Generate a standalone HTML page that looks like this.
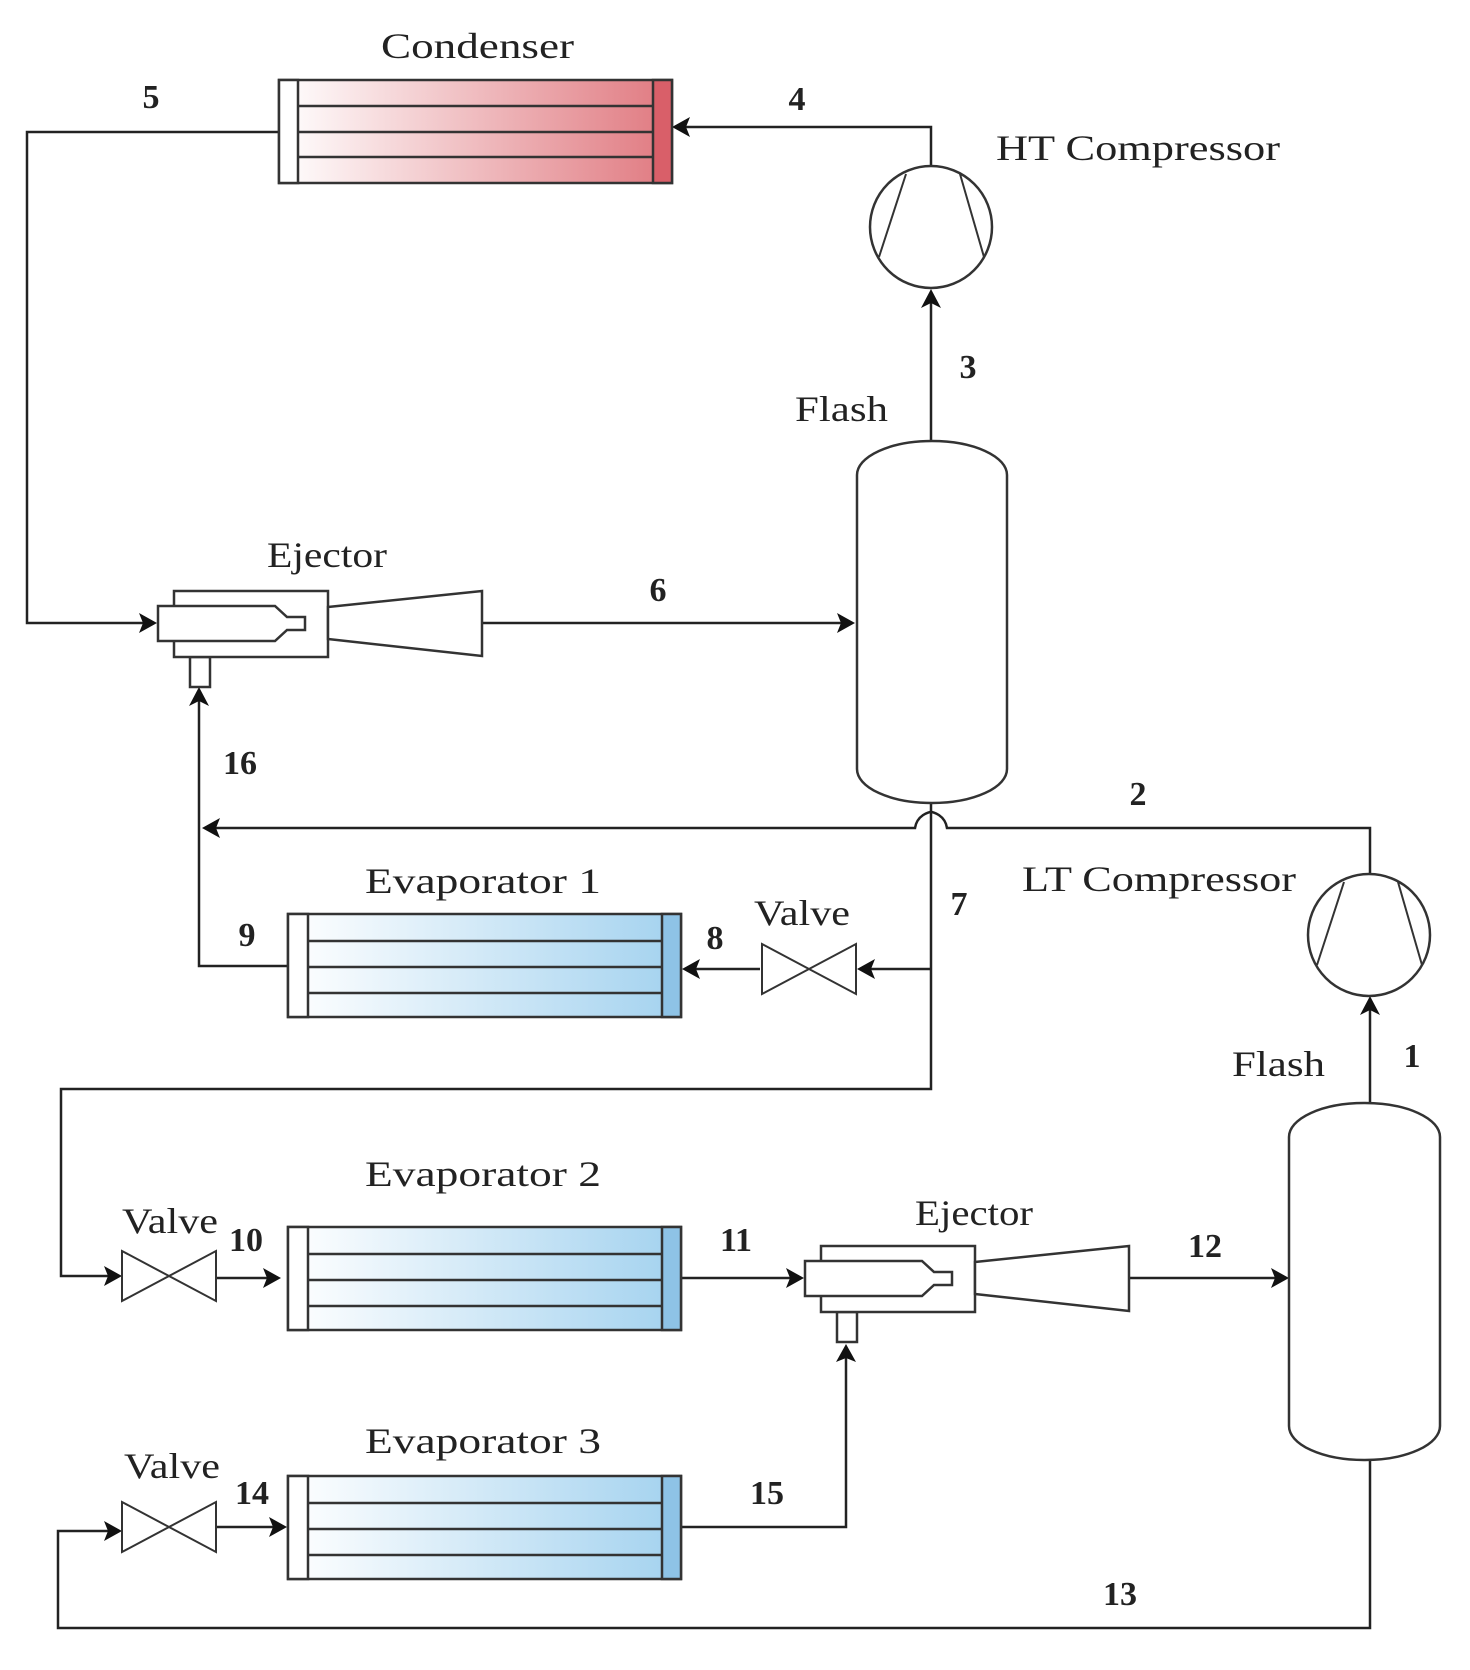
<!DOCTYPE html>
<html><head><meta charset="utf-8"><style>
html,body{margin:0;padding:0;background:#fff}
svg{display:block}
text{font-family:"Liberation Serif",serif;fill:#222}
.lbl{font-size:36px}
.num{font-size:34px;font-weight:bold}
</style></head><body>
<svg width="1470" height="1670" viewBox="0 0 1470 1670" xmlns="http://www.w3.org/2000/svg">
<defs>
<linearGradient id="red" x1="0" x2="1" y1="0" y2="0"><stop offset="0" stop-color="#fff"/><stop offset="1" stop-color="#e07980"/></linearGradient>
<linearGradient id="blue" x1="0" x2="1" y1="0" y2="0"><stop offset="0" stop-color="#fff"/><stop offset="1" stop-color="#a3d2ef"/></linearGradient>
<g id="comp"><ellipse cx="0" cy="0" rx="61" ry="61" fill="#fff" stroke="#333" stroke-width="2.5"/><line x1="-25" y1="-53" x2="-52" y2="30" stroke="#333" stroke-width="2"/><line x1="29" y1="-53" x2="53" y2="30" stroke="#333" stroke-width="2"/></g>
<g id="ej" fill="#fff" stroke="#333" stroke-width="2.5">
<rect x="190" y="657" width="20" height="30"/>
<rect x="174" y="591" width="154" height="66"/>
<polygon points="328,607 482,591 482,656 328,639"/>
<polygon points="158,606 275,606 287,617 305,617 305,630 287,630 275,641 158,641"/>
</g>
<g id="evap">
<rect x="0" y="0" width="393" height="103" fill="url(#blue)" stroke="#333" stroke-width="2.5"/>
<rect x="0" y="0" width="20" height="103" fill="#fff" stroke="#333" stroke-width="2.5"/>
<rect x="374" y="0" width="19" height="103" fill="#8ec3e6" stroke="#333" stroke-width="2.5"/>
<line x1="20" y1="27" x2="374" y2="27" stroke="#333" stroke-width="2.5"/>
<line x1="20" y1="53" x2="374" y2="53" stroke="#333" stroke-width="2.5"/>
<line x1="20" y1="79" x2="374" y2="79" stroke="#333" stroke-width="2.5"/>
</g>
<g id="valve"><polygon points="0,0 94,50 94,0 0,50" fill="#fff" stroke="#333" stroke-width="2"/></g>
</defs>
<g fill="none" stroke="#222" stroke-width="2.5">
<polyline points="279,132 27,132 27,623 150,623"/>
<polyline points="931,166 931,127 684,127"/>
<line x1="931" y1="441" x2="931" y2="300"/>
<line x1="482" y1="623" x2="843" y2="623"/>
<path d="M1370,874 L1370,828 L947,828 C945,815 933,812 931,812 C929,812 917,815 915,828 L214,828"/>
<polyline points="288,966 199,966 199,828"/>
<line x1="199" y1="828" x2="199" y2="700"/>
<polyline points="931,803 931,1089 61,1089 61,1276 110,1276"/>
<line x1="931" y1="969" x2="870" y2="969"/>
<line x1="760" y1="969" x2="694" y2="969"/>
<line x1="216" y1="1278" x2="268" y2="1278"/>
<line x1="681" y1="1278" x2="790" y2="1278"/>
<line x1="1128" y1="1278" x2="1276" y2="1278"/>
<polyline points="681,1527 846,1527 846,1355"/>
<line x1="1370" y1="1103" x2="1370" y2="1008"/>
<polyline points="1370,1460 1370,1628 58,1628 58,1531 110,1531"/>
<line x1="216" y1="1527" x2="273" y2="1527"/>
</g>
<g fill="#111">
<polygon points="157,623 139,613 143,623 139,633"/>
<polygon points="672,127 690,117 686,127 690,137"/>
<polygon points="931,289 921,308 931,303 941,308"/>
<polygon points="855,623 837,613 841,623 837,633"/>
<polygon points="202,828 220,818 216,828 220,838"/>
<polygon points="199,687 189,706 199,701 209,706"/>
<polygon points="857,969 875,959 871,969 875,979"/>
<polygon points="682,969 700,959 696,969 700,979"/>
<polygon points="122,1276 104,1266 108,1276 104,1286"/>
<polygon points="281,1278 263,1268 267,1278 263,1288"/>
<polygon points="804,1278 786,1268 790,1278 786,1288"/>
<polygon points="1289,1278 1271,1268 1275,1278 1271,1288"/>
<polygon points="846,1344 836,1362 846,1358 856,1362"/>
<polygon points="1370,996 1360,1015 1370,1010 1380,1015"/>
<polygon points="122,1531 104,1521 108,1531 104,1541"/>
<polygon points="287,1527 269,1517 273,1527 269,1537"/>
</g>
<rect x="279" y="80" width="393" height="103" fill="url(#red)" stroke="#333" stroke-width="2.5"/>
<rect x="279" y="80" width="19" height="103" fill="#fff" stroke="#333" stroke-width="2.5"/>
<rect x="653" y="80" width="19" height="103" fill="#d95f69" stroke="#333" stroke-width="2.5"/>
<g stroke="#333" stroke-width="2.5"><line x1="298" y1="106" x2="653" y2="106"/><line x1="298" y1="132" x2="653" y2="132"/><line x1="298" y1="157" x2="653" y2="157"/></g>
<use href="#comp" x="931" y="227"/>
<use href="#comp" x="1369" y="935"/>
<rect x="857" y="441" width="150" height="362" rx="75" ry="34" fill="#fff" stroke="#333" stroke-width="2.5"/>
<rect x="1289" y="1103" width="151" height="357" rx="75" ry="34" fill="#fff" stroke="#333" stroke-width="2.5"/>
<use href="#ej"/>
<use href="#ej" x="647" y="655"/>
<use href="#evap" x="288" y="914"/>
<use href="#evap" x="288" y="1227"/>
<use href="#evap" x="288" y="1476"/>
<use href="#valve" x="762" y="944"/>
<use href="#valve" x="122" y="1251"/>
<use href="#valve" x="122" y="1502"/>
<text class="lbl" x="381" y="58" textLength="193" lengthAdjust="spacingAndGlyphs">Condenser</text>
<text class="lbl" x="996" y="160" textLength="284" lengthAdjust="spacingAndGlyphs">HT Compressor</text>
<text class="lbl" x="795" y="421" textLength="93" lengthAdjust="spacingAndGlyphs">Flash</text>
<text class="lbl" x="267" y="567" textLength="120" lengthAdjust="spacingAndGlyphs">Ejector</text>
<text class="lbl" x="365" y="893" textLength="236" lengthAdjust="spacingAndGlyphs">Evaporator  1</text>
<text class="lbl" x="754" y="925" textLength="96" lengthAdjust="spacingAndGlyphs">Valve</text>
<text class="lbl" x="1022" y="891" textLength="274" lengthAdjust="spacingAndGlyphs">LT Compressor</text>
<text class="lbl" x="1232" y="1076" textLength="93" lengthAdjust="spacingAndGlyphs">Flash</text>
<text class="lbl" x="365" y="1186" textLength="236" lengthAdjust="spacingAndGlyphs">Evaporator  2</text>
<text class="lbl" x="122" y="1233" textLength="96" lengthAdjust="spacingAndGlyphs">Valve</text>
<text class="lbl" x="915" y="1225" textLength="118" lengthAdjust="spacingAndGlyphs">Ejector</text>
<text class="lbl" x="365" y="1453" textLength="236" lengthAdjust="spacingAndGlyphs">Evaporator  3</text>
<text class="lbl" x="124" y="1478" textLength="96" lengthAdjust="spacingAndGlyphs">Valve</text>
<g text-anchor="middle">
<text class="num" x="151" y="108">5</text>
<text class="num" x="797" y="110">4</text>
<text class="num" x="968" y="378">3</text>
<text class="num" x="658" y="601">6</text>
<text class="num" x="240" y="774">16</text>
<text class="num" x="1138" y="805">2</text>
<text class="num" x="959" y="915">7</text>
<text class="num" x="715" y="949">8</text>
<text class="num" x="247" y="946">9</text>
<text class="num" x="1412" y="1067">1</text>
<text class="num" x="246" y="1251">10</text>
<text class="num" x="736" y="1251">11</text>
<text class="num" x="1205" y="1257">12</text>
<text class="num" x="252" y="1504">14</text>
<text class="num" x="767" y="1504">15</text>
<text class="num" x="1120" y="1605">13</text>
</g>
</svg>
</body></html>
